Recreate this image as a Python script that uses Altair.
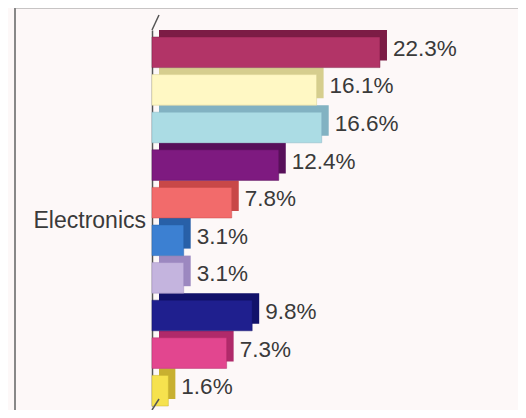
import altair as alt
import pandas as pd

# ---- data ----
category = "Electronics"
series_names = ["S1", "S2", "S3", "S4", "S5", "S6", "S7", "S8", "S9", "S10"]
values = [22.3, 16.1, 16.6, 12.4, 7.8, 3.1, 3.1, 9.8, 7.3, 1.6]

# ---- styles ----
front_colors = ["#B23467", "#FFF8C4", "#ABDCE4", "#7E1A80", "#F26B6B",
                "#3C80D2", "#C4B4DE", "#1F1F8E", "#E2468F", "#F6E24E"]
side_colors = ["#7C1C45", "#D6CE8E", "#82B2C2", "#58105A", "#C84848",
               "#2860A8", "#9C88C0", "#12126A", "#B02A6A", "#C8B030"]

df = pd.DataFrame({"series": series_names, "value": values})
df["category"] = category

W, H = 366, 376
band = H / len(series_names)
depth = 7
bar_h = band - depth

xscale = alt.Scale(domain=[0, 35.8], nice=False, zero=True)
yscale = alt.Scale(paddingInner=0, paddingOuter=0)

base = alt.Chart(df)

back = base.mark_bar(height=bar_h, yOffset=-depth / 2, xOffset=depth).encode(
    x=alt.X("value:Q", scale=xscale, axis=None),
    y=alt.Y("series:N", sort=series_names, scale=yscale,
            axis=alt.Axis(labels=False, ticks=False, title=None, grid=False,
                          domainColor="#555555", domainWidth=1.5)),
    color=alt.Color("series:N", scale=alt.Scale(domain=series_names, range=side_colors), legend=None),
)

front = base.mark_bar(height=bar_h, yOffset=depth / 2, strokeWidth=0.8, strokeOpacity=0.6).encode(
    x=alt.X("value:Q", scale=xscale, axis=None),
    y=alt.Y("series:N", sort=series_names, scale=yscale, axis=None),
    color=alt.Color("series:N", scale=alt.Scale(domain=series_names, range=front_colors), legend=None),
    stroke=alt.Stroke("series:N", scale=alt.Scale(domain=series_names, range=side_colors), legend=None),
)

labels = base.transform_calculate(
    label="format(datum.value, '.1f') + '%'"
).mark_text(align="left", baseline="middle", dx=depth + 6, fontSize=22.5,
            font="Liberation Sans", color="#3a3a3a").encode(
    x=alt.X("value:Q", scale=xscale, axis=None),
    y=alt.Y("series:N", sort=series_names, scale=yscale, axis=None),
    text="label:N",
)

cat_df = pd.DataFrame({"category": [category]})
cat_label = alt.Chart(cat_df).mark_text(
    align="right", baseline="middle", dx=-6, dy=3, fontSize=23,
    font="Liberation Sans", color="#3a3a3a"
).encode(
    x=alt.value(0),
    y=alt.Y("category:N", scale=yscale, axis=None),
    text="category:N",
)

one = pd.DataFrame({"k": [0]})
frame_top = alt.Chart(one).mark_rule(color="#2a2a2a", strokeWidth=2.5).encode(
    x=alt.value(-137), x2=alt.value(2000), y=alt.value(-23)
)
frame_left = alt.Chart(one).mark_rule(color="#888888", strokeWidth=2).encode(
    x=alt.value(-137), y=alt.value(-23), y2=alt.value(2000)
)
wall_top = alt.Chart(one).mark_rule(color="#555555", strokeWidth=1.5).encode(
    x=alt.value(0), x2=alt.value(depth), y=alt.value(0), y2=alt.value(-depth - 8)
)
wall_bot = alt.Chart(one).mark_rule(color="#555555", strokeWidth=1.5).encode(
    x=alt.value(0), x2=alt.value(depth), y=alt.value(H + 4), y2=alt.value(H - depth)
)

chart = alt.layer(frame_top, frame_left, back, front, labels, cat_label, wall_top, wall_bot).resolve_scale(
    y="independent", color="independent"
).properties(
    width=W, height=H,
    padding={"left": 144, "top": 22, "right": 0, "bottom": 4},
    autosize=alt.AutoSizeParams(type="none"),
    background="#FDF8F8",
).configure_view(stroke=None)

chart.save("out.html", embed_options={"renderer": "svg", "actions": False})
